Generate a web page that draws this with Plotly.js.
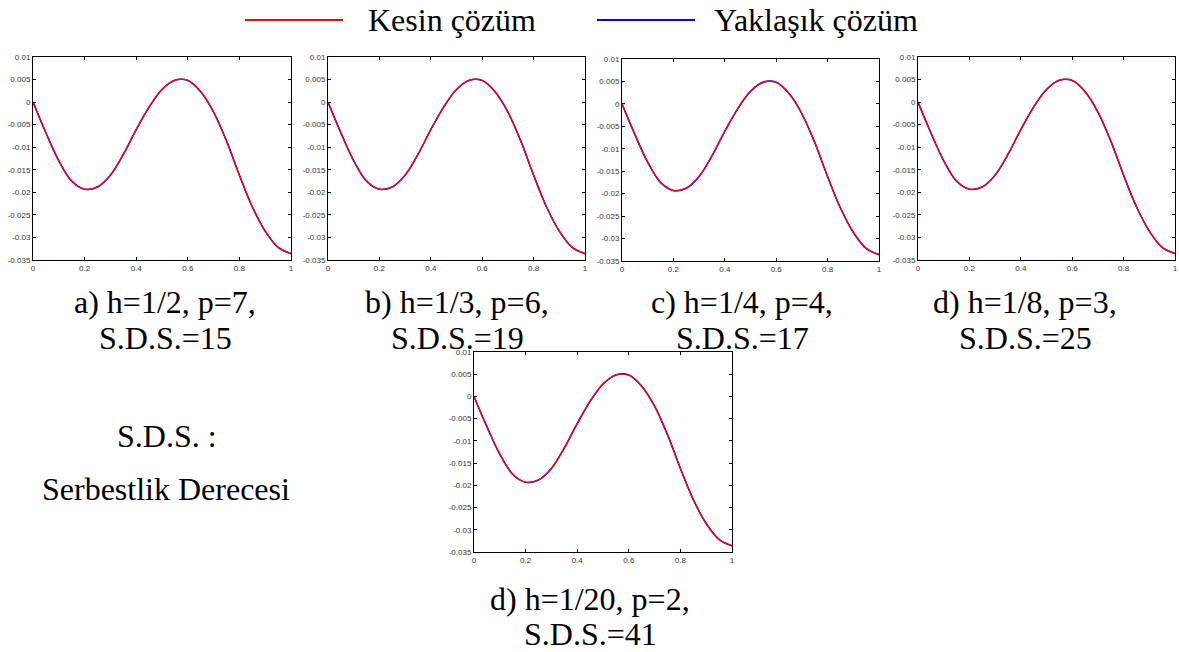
<!DOCTYPE html>
<html>
<head>
<meta charset="utf-8">
<script src="https://cdn.plot.ly/plotly-3.0.1.min.js"></script>
<style>
  html, body { margin: 0; padding: 0; background: #ffffff; }
  #chart { width: 1179px; height: 652px; }
</style>
</head>
<body>
<div id="chart"></div>
<script>
// Sample positions along the beam
const xNoktalar = [0, 0.05, 0.1, 0.15, 0.2, 0.25, 0.3, 0.35, 0.4, 0.45, 0.5,
                   0.55, 0.6, 0.65, 0.7, 0.75, 0.8, 0.85, 0.9, 0.95, 1];

// Exact solution (red)
const kesinCozum = [0, -0.0068, -0.0130, -0.0175, -0.0193, -0.0188, -0.0162, -0.0116,
                    -0.0061, -0.0011, 0.0028, 0.00485, 0.0048, 0.0023, -0.0022, -0.0086,
                    -0.0162, -0.0232, -0.0286, -0.0322, -0.0336];

// Approximate solution (blue) – visually indistinguishable from the exact one
const yaklasikCozum = [0, -0.0068, -0.0130, -0.0175, -0.0193, -0.0188, -0.0162, -0.0116,
                       -0.0061, -0.0011, 0.0028, 0.00485, 0.0048, 0.0023, -0.0022, -0.0086,
                       -0.0162, -0.0232, -0.0286, -0.0322, -0.0336];

// Tick values and labels
const xTickDegerleri = [0, 0.2, 0.4, 0.6, 0.8, 1];
const xTickEtiketleri = ['0', '0.2', '0.4', '0.6', '0.8', '1'];
const yTickDegerleri = [0.01, 0.005, 0, -0.005, -0.01, -0.015, -0.02, -0.025, -0.03, -0.035];
const yTickEtiketleri = ['0.01', '0.005', '0', '-0.005', '-0.01', '-0.015', '-0.02', '-0.025', '-0.03', '-0.035'];

// Panel captions (two lines each)
const panelBasliklari = [
  ['a) h=1/2, p=7,', 'S.D.S.=15'],
  ['b) h=1/3, p=6,', 'S.D.S.=19'],
  ['c) h=1/4, p=4,', 'S.D.S.=17'],
  ['d) h=1/8, p=3,', 'S.D.S.=25'],
  ['d) h=1/20, p=2,', 'S.D.S.=41']
];
const seriAdlari = ['Kesin çözüm', 'Yaklaşık çözüm'];
const aciklama = ['S.D.S. :', 'Serbestlik Derecesi'];

// ---- layout geometry (pixels) ----
const W = 1179, H = 652;
const panelKutulari = [
  [33, 291, 57, 260],
  [328, 585, 57, 260],
  [622, 879, 59, 261],
  [918, 1175, 57, 260],
  [474, 732, 352, 552]
];
const baslikMerkezleri = [[165, 302, 338], [457, 302, 338], [742, 302, 338], [1025, 302, 338], [590, 599, 634]];

const px = v => v / W;
const py = v => 1 - v / H;

const serif = 'Liberation Serif, Times New Roman, serif';
const sans = 'Liberation Sans, Arial, Helvetica, sans-serif';

const traces = [];
const layout = {
  width: W, height: H,
  margin: {l: 0, r: 0, t: 0, b: 0},
  paper_bgcolor: '#ffffff',
  plot_bgcolor: '#ffffff',
  showlegend: false,
  annotations: [],
  shapes: []
};

panelKutulari.forEach((k, i) => {
  const n = i + 1;
  const xa = n === 1 ? 'x' : 'x' + n;
  const ya = n === 1 ? 'y' : 'y' + n;
  const common = {
    showline: true, linecolor: '#000000', linewidth: 1,
    mirror: 'ticks', ticks: 'inside', ticklen: 3, tickwidth: 1, tickcolor: '#000000',
    showgrid: false, zeroline: false, fixedrange: true,
    tickfont: {family: sans, size: 8, color: '#333333'}
  };
  layout[n === 1 ? 'xaxis' : 'xaxis' + n] = Object.assign({}, common, {
    domain: [px(k[0]), px(k[1])], range: [0, 1], anchor: ya,
    tickmode: 'array', tickvals: xTickDegerleri, ticktext: xTickEtiketleri
  });
  layout[n === 1 ? 'yaxis' : 'yaxis' + n] = Object.assign({}, common, {
    domain: [py(k[3]), py(k[2])], range: [-0.035, 0.01], anchor: xa,
    tickmode: 'array', tickvals: yTickDegerleri, ticktext: yTickEtiketleri
  });

  traces.push({
    x: xNoktalar, y: yaklasikCozum, xaxis: xa, yaxis: ya, type: 'scatter', mode: 'lines',
    name: seriAdlari[1], line: {color: '#0000ff', width: 1.6, shape: 'spline', smoothing: 1}
  });
  traces.push({
    x: xNoktalar, y: kesinCozum, xaxis: xa, yaxis: ya, type: 'scatter', mode: 'lines',
    name: seriAdlari[0], line: {color: '#ff0000', width: 1.3, shape: 'spline', smoothing: 1}
  });

  const m = baslikMerkezleri[i];
  panelBasliklari[i].forEach((satir, j) => {
    layout.annotations.push({
      xref: 'paper', yref: 'paper', x: px(m[0]), y: py(m[1 + j]),
      xanchor: 'center', yanchor: 'middle', showarrow: false,
      text: satir, font: {family: serif, size: 32, color: '#000000'}
    });
  });
});

// Legend drawn across the top
const lejant = [
  {renk: '#ff0000', x0: 245, x1: 343, tx: 366, ad: seriAdlari[0]},
  {renk: '#0000ff', x0: 597, x1: 695, tx: 712, ad: seriAdlari[1]}
];
lejant.forEach(l => {
  layout.shapes.push({
    type: 'line', xref: 'paper', yref: 'paper',
    x0: px(l.x0), x1: px(l.x1), y0: py(20), y1: py(20),
    line: {color: l.renk, width: 2}
  });
  layout.annotations.push({
    xref: 'paper', yref: 'paper', x: px(l.tx), y: py(20),
    xanchor: 'left', yanchor: 'middle', showarrow: false,
    text: l.ad, font: {family: serif, size: 32, color: '#000000'}
  });
});

// Abbreviation note on the left
layout.annotations.push({
  xref: 'paper', yref: 'paper', x: px(167), y: py(436),
  xanchor: 'center', yanchor: 'middle', showarrow: false,
  text: aciklama[0], font: {family: serif, size: 32, color: '#000000'}
});
layout.annotations.push({
  xref: 'paper', yref: 'paper', x: px(166), y: py(489),
  xanchor: 'center', yanchor: 'middle', showarrow: false,
  text: aciklama[1], font: {family: serif, size: 32, color: '#000000'}
});

Plotly.newPlot('chart', traces, layout, {displayModeBar: false, staticPlot: true});
</script>
</body>
</html>
